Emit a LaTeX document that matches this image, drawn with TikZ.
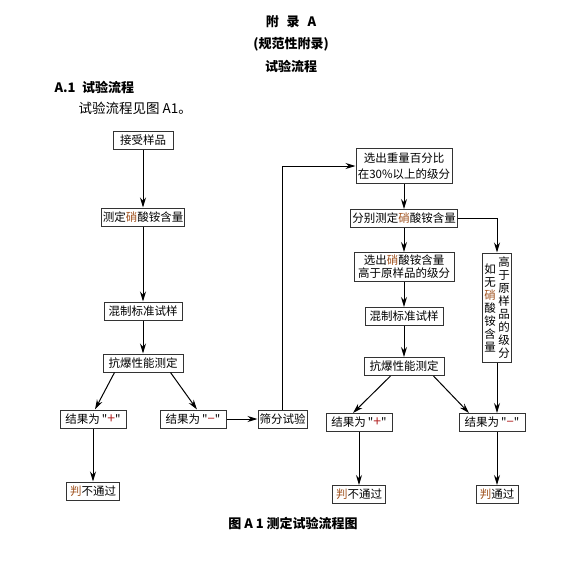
\documentclass[tikz,border=0pt]{standalone}
\usepackage{fontspec}
\setmainfont{Noto Sans CJK SC}[Ligatures=TeXOff]
\usetikzlibrary{positioning,arrows.meta,calc}
\definecolor{lineGray}{HTML}{333333}
\definecolor{keyBrown}{HTML}{A0521E}
\definecolor{signRed}{HTML}{B22222}

\begin{document}
\begin{tikzpicture}[
  x=1pt, y=1pt,
  font=\fontsize{11.5}{13}\selectfont,
  >={Stealth[length=10pt,width=6pt]},
  %% Node styles
  box/.style={
    draw=lineGray, line width=1pt, fill=white,
    minimum height=18pt, inner xsep=1.5pt, inner ysep=1pt,
    align=center
  },
  title/.style={font=\fontsize{13}{15}\selectfont\bfseries},
  %% Arrow styles
  flow/.style={->, line width=1pt, color=black},
]
\useasboundingbox (0,0) rectangle (575,-576);

%% ── Header ─────────────────────────────────────────────────────────────────
\node[title] (app)  at (291,-22) {附\hspace{0.6em}录\hspace{0.6em}A};
\node[title] (norm) at (291,-44) {(规范性附录)};
\node[title] (proc) at (291,-66) {试验流程};
\node[title, anchor=west] (sec) at (51,-87) {A.1\hspace{0.5em}试验流程};
\node[anchor=west, font=\fontsize{13.5}{15}\selectfont] (intro) at (75,-108) {试验流程见图 A1。};

%% ── Left column ────────────────────────────────────────────────────────────
\node[box, minimum width=60pt] (recv) at (143,-140) {接受样品};
\node[box, below=58pt of recv] (measL) {测定\textcolor{keyBrown}{硝}酸铵含量};
\node[box, minimum width=78pt, below=75pt of measL] (mixL) {混制标准试样};
\node[box, minimum width=80pt, below=33pt of mixL] (testL) {抗爆性能测定};
\node[box, minimum width=66pt, below=37pt of testL, xshift=-50pt] (posL) {结果为\,"{\color{signRed}\fontsize{14}{13}\selectfont +}"};
\node[box, minimum width=66pt, below=37pt of testL, xshift=50pt] (negL) {结果为\,"{\color{signRed}\fontsize{13}{13}\selectfont −}"};
\node[box, right=31pt of negL] (sieve) {筛分试验};
\node[box, minimum width=53pt, below=53pt of posL] (failL) {\textcolor{keyBrown}{判}不通过};

%% ── Right column ───────────────────────────────────────────────────────────
\node[box, minimum width=96pt, minimum height=35pt] (pick) at (404,-166) {选出重量百分比\\[3pt]在30\%以上的级分};
\node[box, below=25pt of pick] (measR) {分别测定\textcolor{keyBrown}{硝}酸铵含量};
\node[box, minimum width=100pt, minimum height=29pt, below=24pt of measR] (high) {选出\textcolor{keyBrown}{硝}酸铵含量\\高于原样品的级分};
\node[box, minimum width=78pt, below=25pt of high] (mixR) {混制标准试样};
\node[box, minimum width=80pt, below=31pt of mixR] (testR) {抗爆性能测定};
\node[box, minimum width=66pt, below=37pt of testR, xshift=-45pt] (posR) {结果为\,"{\color{signRed}\fontsize{14}{13}\selectfont +}"};
\node[box, minimum width=66pt, below=37pt of testR, xshift=88pt] (negR) {结果为\,"{\color{signRed}\fontsize{13}{13}\selectfont −}"};
\node[box, minimum width=53pt, below=53pt of posR] (failR) {\textcolor{keyBrown}{判}不通过};
\node[box, minimum width=42pt, below=53pt of negR, xshift=5pt] (pass) {\textcolor{keyBrown}{判}通过};

%% vertical note box
\node[box, minimum width=29pt, minimum height=109pt, inner sep=0pt] (noN) at (497,-307.5) {%
  \begin{tabular}{@{}c@{\hspace{2pt}}c@{}}
  \parbox[c]{12pt}{\centering 如\\无\\\textcolor{keyBrown}{硝}\\酸\\铵\\含\\量} &
  \parbox[c]{12pt}{\centering 高\\于\\原\\样\\品\\的\\级\\分}
  \end{tabular}};

%% ── Arrows ─────────────────────────────────────────────────────────────────
\draw[flow] (recv)  -- (measL);
\draw[flow] (measL) -- (mixL);
\draw[flow] (mixL)  -- (testL);
\draw[flow] ([xshift=12pt]testL.south west) -- ([xshift=2pt]posL.north);
\draw[flow] ([xshift=-13pt]testL.south east) -- ([xshift=4pt]negL.north);
\draw[flow] (posL)  -- (failL);
\draw[flow] (negL)  -- (sieve);
\draw[flow] (sieve.north) |- (pick.west);

\draw[flow] (pick)  -- (measR);
\draw[flow] (measR) -- (high);
\draw[flow] (high)  -- (mixR);
\draw[flow] (mixR)  -- (testR);
\draw[flow] (measR.east) -| (noN.north);
\draw[flow] ([xshift=27pt]testR.south west) -- ([xshift=-6pt]posR.north);
\draw[flow] ([xshift=-11pt]testR.south east) -- ([xshift=-23pt]negR.north);
\draw[flow] (noN.south) -- (noN.south |- negR.north);
\draw[flow] (posR)  -- (failR);
\draw[flow] (pass.north |- negR.south) -- (pass.north);

%% ── Caption ────────────────────────────────────────────────────────────────
\node[title] (cap) at (293,-523) {图 A 1 测定试验流程图};

\end{tikzpicture}
\end{document}
